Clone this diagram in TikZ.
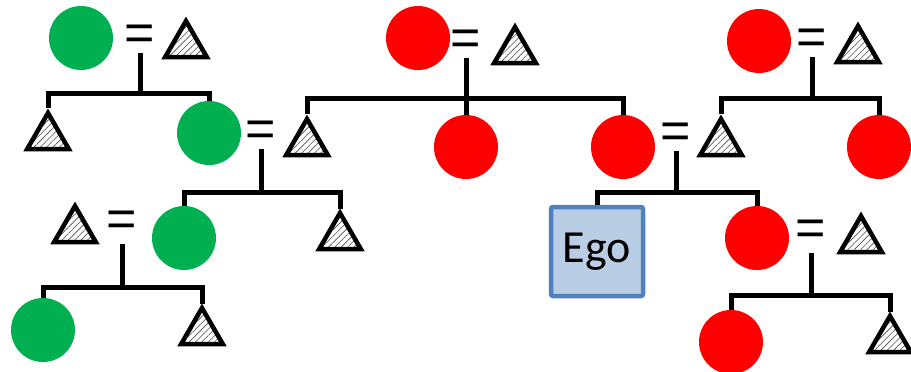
\documentclass[tikz,border=0pt]{standalone}
\usepackage{fontspec}
\usepackage{tikz}
\usetikzlibrary{shapes.geometric,patterns.meta}
\newfontfamily\egofont{Carlito}
\newfontfamily\eqfont{Liberation Sans}
\definecolor{kingreen}{RGB}{0,176,80}
\definecolor{kinred}{RGB}{255,0,0}
\definecolor{egofill}{RGB}{185,205,229}
\definecolor{egoline}{RGB}{79,129,189}
\tikzset{
  fem/.style  ={circle, minimum size=64pt, inner sep=0pt, outer sep=0pt},
  mal/.style  ={regular polygon, regular polygon sides=3, draw=black, line width=4.5pt,
                minimum size=48pt, inner sep=0pt,
                pattern={Lines[angle=45,distance=4.5pt,line width=0.6pt]}, pattern color=black!70},
  ego/.style  ={draw=egoline, fill=egofill, line width=4.5pt, rounded corners=2pt,
                minimum width=92pt, minimum height=89pt, font=\egofont\fontsize{46}{46}\selectfont},
  eq/.style   ={inner sep=0pt, font=\eqfont\fontsize{52}{52}\selectfont},
  kin/.style  ={draw=black, line width=5pt},
}
\begin{document}
\begin{tikzpicture}[x=1pt,y=-1pt]
\useasboundingbox (0,0) rectangle (911,372);
% green side
\node[fem,fill=kingreen] (gA) at (81,38) {};
\node[eq] (eqA) at (140,38) {=};
\node[mal] (tA) at (186,45) {};
\node[mal] (tAk) at (48,137) {};
\node[fem,fill=kingreen] (gB) at (209,133) {};
\node[eq] (eqB) at (261,134) {=};
\node[mal] (tB) at (307,143) {};
\node[mal] (tK) at (75,230) {};
\node[eq] (eqK) at (122,224) {=};
\node[fem,fill=kingreen] (gJ) at (184,238) {};
\node[mal] (tJk) at (340,237) {};
\node[fem,fill=kingreen] (gL) at (43,330) {};
\node[mal] (tL) at (202,332) {};
% red side
\node[fem,fill=kinred] (rC) at (418,38) {};
\node[eq] (eqC) at (466,43) {=};
\node[mal] (tC) at (515,51) {};
\node[fem,fill=kinred] (rD) at (466,147) {};
\node[fem,fill=kinred] (rE) at (623,147) {};
\node[eq] (eqE) at (676,136) {=};
\node[mal] (tF1) at (721,143) {};
\node[fem,fill=kinred] (rF) at (759,41) {};
\node[eq] (eqF) at (812,42) {=};
\node[mal] (tF) at (858,50) {};
\node[fem,fill=kinred] (rG) at (879,147) {};
\node[ego] (ego) at (597,251.5) {Ego};
\node[fem,fill=kinred] (rH) at (757,238) {};
\node[eq] (eqH) at (811,233) {=};
\node[mal] (tH) at (861,240) {};
\node[fem,fill=kinred] (rI) at (731,342) {};
\node[mal] (tI) at (890,340) {};
% sibling bars
\coordinate (jA) at (140,93);
\coordinate (jB) at (261,192);
\coordinate (jK) at (122,287);
\coordinate (jC) at (466,98);
\coordinate (jE) at (676,192);
\coordinate (jF) at (812,98);
\coordinate (jH) at (811,295);
\draw[kin] ([yshift=-15pt]eqA.center) -- (jA);
\draw[kin] (tAk.north) |- (jA) -| (gB.north);
\draw[kin] ([yshift=-15pt]eqB.center) -- (jB);
\draw[kin] (gJ.north) |- (jB) -| (tJk.north);
\draw[kin] ([yshift=-20pt]eqK.center) -- (jK);
\draw[kin] (gL.north) |- (jK) -| (tL.north);
\draw[kin] ([yshift=-15pt]eqC.center) -- (rD.north);
\draw[kin] (tB.north) |- (jC) -| (rE.north);
\draw[kin] ([yshift=-15pt]eqE.center) -- (jE);
\draw[kin] (ego.north) |- (jE) -| (rH.north);
\draw[kin] ([yshift=-15pt]eqF.center) -- (jF);
\draw[kin] (tF1.north) |- (jF) -| (rG.north);
\draw[kin] ([yshift=-20pt]eqH.center) -- (jH);
\draw[kin] (rI.north) |- (jH) -| (tI.north);
\end{tikzpicture}
\end{document}
